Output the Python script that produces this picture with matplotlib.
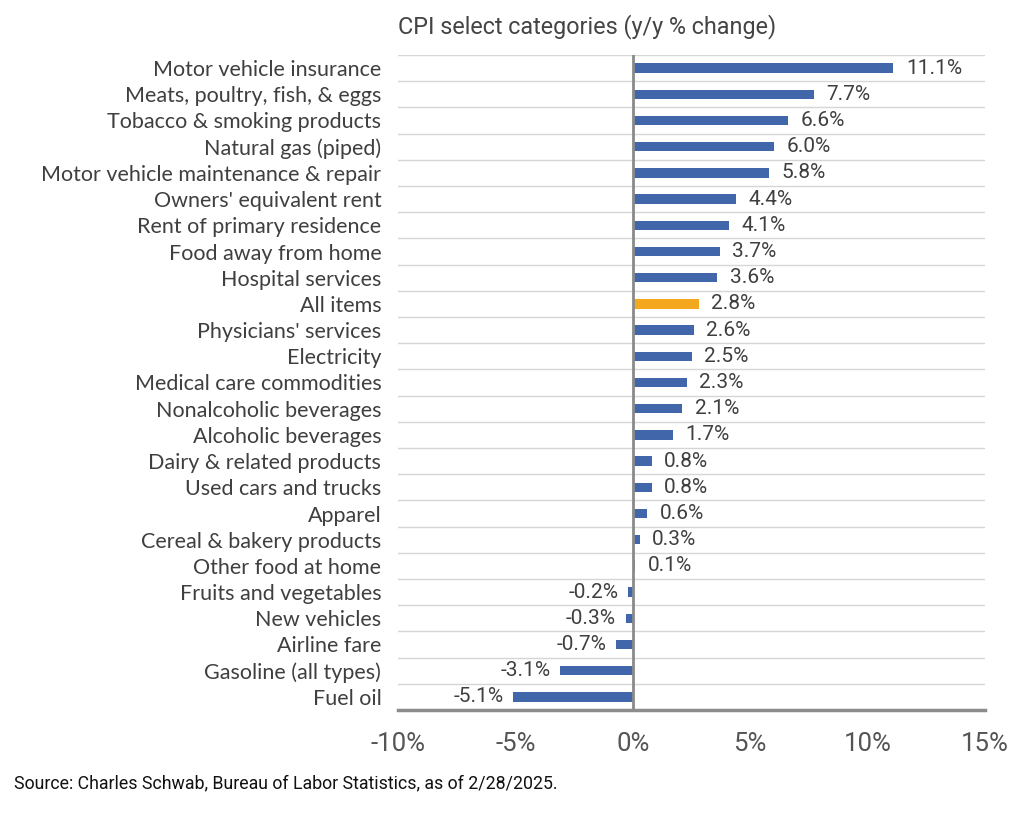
import matplotlib
matplotlib.use("Agg")
import matplotlib.pyplot as plt
import numpy as np

categories = [
    "Motor vehicle insurance", "Meats, poultry, fish, & eggs", "Tobacco & smoking products",
    "Natural gas (piped)", "Motor vehicle maintenance & repair", "Owners' equivalent rent",
    "Rent of primary residence", "Food away from home", "Hospital services", "All items",
    "Physicians' services", "Electricity", "Medical care commodities", "Nonalcoholic beverages",
    "Alcoholic beverages", "Dairy & related products", "Used cars and trucks", "Apparel",
    "Cereal & bakery products", "Other food at home", "Fruits and vegetables", "New vehicles",
    "Airline fare", "Gasoline (all types)", "Fuel oil",
]
values = [11.1, 7.7, 6.6, 6.0, 5.8, 4.4, 4.1, 3.7, 3.6, 2.8, 2.6, 2.5, 2.3, 2.1, 1.7,
          0.8, 0.8, 0.6, 0.3, 0.1, -0.2, -0.3, -0.7, -3.1, -5.1]
highlight = "All items"
xticks = [-10, -5, 0, 5, 10, 15]
xtick_labels = ["-10%", "-5%", "0%", "5%", "10%", "15%"]

BLUE = "#4166A9"
ORANGE = "#F4A81D"
TXT = "#3f3f3f"

fig = plt.figure(figsize=(10.24, 8.18), dpi=100)
ax = fig.add_axes([398/1024, 1 - 710/818, (985 - 398)/1024, (710 - 55)/818])

y = np.arange(len(categories))
colors = [ORANGE if c == highlight else BLUE for c in categories]
ax.barh(y, values, height=0.36, color=colors, zorder=3)

ax.set_ylim(len(categories) - 0.5, -0.5)
ax.set_xlim(-10, 15)

# gridlines between categories
for b in np.arange(-0.5, len(categories) - 0.5, 1.0):
    ax.axhline(b, color="#D6D6D6", lw=1.0, zorder=1)
ax.axvline(0, color="#8A8A8A", lw=2.0, zorder=4)

for s in ["top", "right", "left"]:
    ax.spines[s].set_visible(False)
ax.spines["bottom"].set_color("#8C8C8C")
ax.spines["bottom"].set_linewidth(2.5)
ax.spines["bottom"].set_zorder(5)

ax.set_yticks(y)
ax.set_yticklabels(categories, fontsize=15.5, color=TXT, family=["Lato", "DejaVu Sans"])
ax.tick_params(axis="y", length=0, pad=12)
ax.set_xticks(xticks)
ax.set_xticklabels(xtick_labels, fontsize=18.5, color="#555555", family=["Roboto", "DejaVu Sans"])
ax.tick_params(axis="x", length=0, pad=16)

for yi, v in zip(y, values):
    if v >= 0:
        ax.annotate(f"{v:.1f}%", (v, yi), xytext=(9, 0), textcoords="offset points",
                    ha="left", va="center", fontsize=15, color=TXT,
                    family=["Roboto", "DejaVu Sans"])
    else:
        ax.annotate(f"{v:.1f}%", (v, yi), xytext=(-7, 0), textcoords="offset points",
                    ha="right", va="center", fontsize=15, color=TXT,
                    family=["Roboto", "DejaVu Sans"])

fig.text(398/1024, 1 - 27/818, "CPI select categories (y/y % change)", ha="left", va="center",
         fontsize=16.8, color="#444444", family=["Roboto", "DejaVu Sans"])
fig.text(14/1024, 1 - 783/818, "Source: Charles Schwab, Bureau of Labor Statistics, as of 2/28/2025.",
         ha="left", va="center", fontsize=12.8, color="#111111", family=["Roboto", "DejaVu Sans"])

fig.savefig("out.png", dpi=100, facecolor="white")
